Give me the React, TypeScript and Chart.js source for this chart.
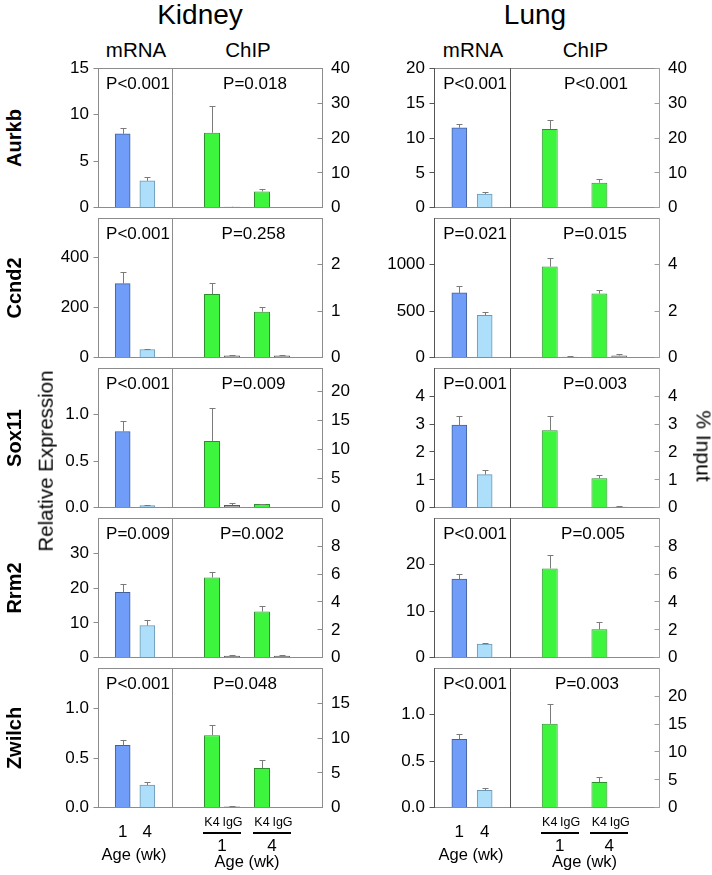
import React, { useEffect, useRef } from 'react';
import { Chart, registerables } from 'chart.js';

Chart.register(...registerables);

const FONT = '"Liberation Sans", Arial, sans-serif';

// ---------- labels ----------
const genes = ['Aurkb', 'Ccnd2', 'Sox11', 'Rrm2', 'Zwilch'];
const ageWeeks = ['1', '4'];
const chipGroups = ['K4', 'IgG'];

// ---------- Kidney ----------
const kidneyMrna1 = [7.95, 295, 0.82, 18.75, 0.63];
const kidneyMrna1Err = [0.65, 46, 0.11, 2.3, 0.05];
const kidneyMrna4 = [2.9, 33, 0.023, 9.25, 0.23];
const kidneyMrna4Err = [0.45, 3, 0.004, 1.7, 0.03];
const kidneyK4w1 = [21.5, 1.37, 11.5, 5.75, 10.4];
const kidneyK4w1Err = [7.7, 0.24, 5.6, 0.38, 1.4];
const kidneyIgGw1 = [0.3, 0.05, 0.48, 0.15, 0.17];
const kidneyIgGw1Err = [0.05, 0.01, 0.27, 0.02, 0.05];
const kidneyK4w4 = [4.7, 0.99, 0.64, 3.31, 5.7];
const kidneyK4w4Err = [0.8, 0.11, 0.08, 0.38, 1.2];
const kidneyIgGw4 = [0.1, 0.05, 0.05, 0.15, 0.05];
const kidneyIgGw4Err = [0.02, 0.01, 0.01, 0.02, 0.01];
const kidneyPmrna = ['P<0.001', 'P<0.001', 'P<0.001', 'P=0.009', 'P<0.001'];
const kidneyPchip = ['P=0.018', 'P=0.258', 'P=0.009', 'P=0.002', 'P=0.048'];
const kidneyMrnaMax = [15, 555, 1.5, 40, 1.41];
const kidneyMrnaTicks = [[0, 5, 10, 15], [0, 200, 400], [0, 0.5, 1.0], [0, 10, 20, 30], [0, 0.5, 1.0]];
const kidneyChipMax = [40, 3, 24, 10, 20];
const kidneyChipTicks = [[0, 10, 20, 30, 40], [0, 1, 2], [0, 5, 10, 15, 20], [0, 2, 4, 6, 8], [0, 5, 10, 15]];

// ---------- Lung ----------
const lungMrna1 = [11.47, 697, 2.96, 16.9, 0.737];
const lungMrna1Err = [0.6, 73, 0.34, 1.2, 0.057];
const lungMrna4 = [1.96, 457, 1.19, 2.93, 0.187];
const lungMrna4Err = [0.35, 40, 0.17, 0.2, 0.026];
const lungK4w1 = [22.6, 3.92, 2.78, 6.4, 15.05];
const lungK4w1Err = [2.5, 0.37, 0.51, 0.95, 3.6];
const lungIgGw1 = [0.1, 0.05, 0.02, 0.03, 0.05];
const lungIgGw1Err = [0.02, 0.01, 0.01, 0.01, 0.01];
const lungK4w4 = [7.2, 2.76, 1.06, 2.04, 4.6];
const lungK4w4Err = [1.0, 0.15, 0.13, 0.49, 0.83];
const lungIgGw4 = [0.15, 0.1, 0.04, 0.05, 0.1];
const lungIgGw4Err = [0.02, 0.06, 0.02, 0.01, 0.01];
const lungPmrna = ['P<0.001', 'P=0.021', 'P=0.001', 'P<0.001', 'P<0.001'];
const lungPchip = ['P<0.001', 'P=0.015', 'P=0.003', 'P=0.005', 'P=0.003'];
const lungMrnaMax = [20, 1500, 5, 30, 1.5];
const lungMrnaTicks = [[0, 5, 10, 15, 20], [0, 500, 1000], [0, 1, 2, 3, 4], [0, 10, 20], [0, 0.5, 1.0]];
const lungChipMax = [40, 6, 5, 10, 25];
const lungChipTicks = [[0, 10, 20, 30, 40], [0, 2, 4], [0, 1, 2, 3, 4], [0, 2, 4, 6, 8], [0, 5, 10, 15, 20]];

// ---------- styling ----------
const C_M1 = '#6F9DF7';
const C_M1B = '#44609a';
const C_M4 = '#ADDFFA';
const C_M4B = '#6c98b4';
const C_K4 = '#3DF53D';
const C_K4B = '#2f8f2f';
const C_IGG = '#A8A8A8';
const C_IGGB = '#5a5a5a';
const C_ERR = '#7a7a7a';
const TICK_FONT = 17;

const ROW_TOP0 = 63;
const ROW_H = 150;
const PAD = 14;

type Colors = { l: string; r: string; h: string };

type SubProps = {
  left: number;
  top: number;
  width: number;
  height: number;
  side: 'left' | 'right';
  axisW: number;
  datasets: any[];
  yMax: number;
  yTicks: number[];
  colors: Colors;
};

function SubChart(p: SubProps) {
  const ref = useRef<HTMLCanvasElement>(null);
  useEffect(() => {
    if (!ref.current) return;
    const decimals = p.yTicks.some((v) => !Number.isInteger(v)) ? 1 : 0;
    const cr = (v: number) => Math.floor(v) + 0.5;
    const frame = {
      id: 'frame',
      afterDraw(chart: any) {
        const { ctx, chartArea: a } = chart;
        const ys = chart.scales.y;
        ctx.save();
        ctx.lineWidth = 1;
        const line = (x1: number, y1: number, x2: number, y2: number, col: string) => {
          ctx.strokeStyle = col;
          ctx.beginPath();
          ctx.moveTo(x1, y1);
          ctx.lineTo(x2, y2);
          ctx.stroke();
        };
        const L = cr(a.left), R = cr(a.right), T = cr(a.top), B = cr(a.bottom);
        line(L, T, R, T, p.colors.h);
        line(L, B, R, B, p.colors.h);
        line(L, T - 0.5, L, B + 0.5, p.colors.l);
        line(R, T - 0.5, R, B + 0.5, p.colors.r);
        p.yTicks.forEach((v) => {
          const y = cr(ys.getPixelForValue(v));
          if (p.side === 'left') line(L - 5, y, L, y, p.colors.l);
          else line(R - 5, y, R, y, p.colors.r);
        });
        ctx.restore();
      },
    };
    const errs = {
      id: 'errs',
      afterDatasetsDraw(chart: any) {
        const ctx = chart.ctx;
        const ys = chart.scales.y;
        ctx.save();
        ctx.strokeStyle = C_ERR;
        ctx.lineWidth = 1;
        chart.data.datasets.forEach((ds: any, i: number) => {
          const meta = chart.getDatasetMeta(i);
          meta.data.forEach((el: any, j: number) => {
            const v = ds.data[j];
            const e = ds.errors ? ds.errors[j] : null;
            if (v == null || !e) return;
            const x = Math.round(el.x) + 0.5;
            const y0 = el.y;
            const y1 = Math.round(ys.getPixelForValue(v + e)) + 0.5;
            ctx.beginPath();
            ctx.moveTo(x, y0);
            ctx.lineTo(x, y1);
            ctx.moveTo(x - 3, y1);
            ctx.lineTo(x + 3, y1);
            ctx.stroke();
          });
        });
        ctx.restore();
      },
    };
    const chart = new Chart(ref.current, {
      type: 'bar',
      data: { labels: ['', ...ageWeeks, ''], datasets: p.datasets },
      options: {
        responsive: false,
        animation: false,
        events: [],
        layout: {
          padding: {
            top: PAD,
            bottom: PAD,
            left: 0,
            right: 0,
          },
        },
        datasets: { bar: { categoryPercentage: 0.8, barPercentage: 0.8 } },
        plugins: { legend: { display: false }, tooltip: { enabled: false } },
        scales: {
          x: { type: 'category', offset: false, display: false },
          y: {
            position: p.side,
            min: 0,
            max: p.yMax,
            afterFit: (s: any) => {
              s.width = p.axisW;
            },
            afterBuildTicks: (s: any) => {
              s.ticks = p.yTicks.map((v) => ({ value: v }));
            },
            ticks: {
              padding: 9,
              color: '#000',
              font: { family: FONT, size: TICK_FONT },
              callback: (v: any) => Number(v).toFixed(decimals),
            },
            grid: { display: false, drawTicks: false },
            border: { display: false },
          },
        },
      } as any,
      plugins: [frame, errs],
    });
    return () => chart.destroy();
  }, []);
  return (
    <canvas
      ref={ref}
      width={p.width}
      height={p.height}
      style={{ position: 'absolute', left: p.left, top: p.top }}
    />
  );
}

function Txt(props: { x: number; y: number; size: number; bold?: boolean; children: any }) {
  const { x, y, size, bold, children } = props;
  return (
    <div
      style={{
        position: 'absolute',
        left: x,
        top: y - 0.8465 * size,
        fontSize: size,
        lineHeight: `${size}px`,
        fontWeight: bold ? 'bold' : 'normal',
        transform: 'translateX(-50%)',
        whiteSpace: 'nowrap',
        color: '#000',
      }}
    >
      {children}
    </div>
  );
}

function RotTxt(props: { cx: number; cy: number; size: number; angle: number; bold?: boolean; children: any }) {
  const { cx, cy, size, angle, bold, children } = props;
  return (
    <div
      style={{
        position: 'absolute',
        left: cx,
        top: cy,
        fontSize: size,
        lineHeight: `${size}px`,
        fontWeight: bold ? 'bold' : 'normal',
        transform: `translate(-50%, -50%) rotate(${angle}deg)`,
        whiteSpace: 'nowrap',
        color: '#000',
      }}
    >
      {children}
    </div>
  );
}

type Tissue = {
  name: string;
  titleX: number;
  mL: number;
  div: number;
  R: number;
  colMrna: Colors;
  colChip: Colors;
  m1: number[]; m1e: number[]; m4: number[]; m4e: number[];
  k1: number[]; k1e: number[]; i1: number[]; i1e: number[];
  k4: number[]; k4e: number[]; i4: number[]; i4e: number[];
  pm: string[]; pc: string[];
  mMax: number[]; mTicks: number[][]; cMax: number[]; cTicks: number[][];
  pcOff: number[];
};

const kidney: Tissue = {
  name: 'Kidney', titleX: 200, mL: 98, div: 172, R: 322,
  colMrna: { l: '#8c8c8c', r: '#8c8c8c', h: '#8c8c8c' },
  colChip: { l: '#8c8c8c', r: '#8c8c8c', h: '#8c8c8c' },
  m1: kidneyMrna1, m1e: kidneyMrna1Err, m4: kidneyMrna4, m4e: kidneyMrna4Err,
  k1: kidneyK4w1, k1e: kidneyK4w1Err, i1: kidneyIgGw1, i1e: kidneyIgGw1Err,
  k4: kidneyK4w4, k4e: kidneyK4w4Err, i4: kidneyIgGw4, i4e: kidneyIgGw4Err,
  pm: kidneyPmrna, pc: kidneyPchip,
  mMax: kidneyMrnaMax, mTicks: kidneyMrnaTicks, cMax: kidneyChipMax, cTicks: kidneyChipTicks,
  pcOff: [83, 81.5, 81.5, 80, 73],
};

const lung: Tissue = {
  name: 'Lung', titleX: 535, mL: 434, div: 510, R: 659,
  colMrna: { l: '#555555', r: '#555555', h: '#8c8c8c' },
  colChip: { l: '#555555', r: '#a0a0a0', h: '#8c8c8c' },
  m1: lungMrna1, m1e: lungMrna1Err, m4: lungMrna4, m4e: lungMrna4Err,
  k1: lungK4w1, k1e: lungK4w1Err, i1: lungIgGw1, i1e: lungIgGw1Err,
  k4: lungK4w4, k4e: lungK4w4Err, i4: lungIgGw4, i4e: lungIgGw4Err,
  pm: lungPmrna, pc: lungPchip,
  mMax: lungMrnaMax, mTicks: lungMrnaTicks, cMax: lungChipMax, cTicks: lungChipTicks,
  pcOff: [86, 85, 85, 83, 77],
};

function TissueBlock({ t }: { t: Tissue }) {
  const mW = t.div - t.mL;
  const cW = t.R - t.div;
  const LEFT_AX = 60;
  const RIGHT_AX = 50;
  const bottom = ROW_TOP0 + ROW_H * genes.length;
  const mrnaCenters = [t.mL + mW / 3, t.mL + (2 * mW) / 3];
  const groupCenters = [t.div + cW / 3, t.div + (2 * cW) / 3];
  const barOff = (10 * cW) / 150;
  const out: any[] = [];
  out.push(<Txt key="title" x={t.titleX} y={25} size={28}>{t.name}</Txt>);
  out.push(<Txt key="mrnaT" x={t.mL + mW / 2 + 1} y={57} size={20.5}>mRNA</Txt>);
  out.push(<Txt key="chipT" x={t.div + cW / 2 + 1} y={57} size={20.5}>ChIP</Txt>);
  genes.forEach((g, r) => {
    const rowTop = ROW_TOP0 + r * ROW_H;
    out.push(
      <SubChart
        key={`m${r}`}
        left={t.mL - LEFT_AX}
        top={rowTop - PAD}
        width={LEFT_AX + mW}
        height={ROW_H + 2 * PAD}
        side="left"
        axisW={LEFT_AX}
        yMax={t.mMax[r]}
        yTicks={t.mTicks[r]}
        colors={t.colMrna}
        datasets={[
          {
            label: 'mRNA',
            data: [null, t.m1[r], t.m4[r], null],
            errors: [null, t.m1e[r], t.m4e[r], null],
            backgroundColor: ['rgba(0,0,0,0)', C_M1, C_M4, 'rgba(0,0,0,0)'],
            borderColor: ['rgba(0,0,0,0)', C_M1B, C_M4B, 'rgba(0,0,0,0)'],
            borderWidth: 1,
            barThickness: 15,
          },
        ]}
      />
    );
    out.push(
      <SubChart
        key={`c${r}`}
        left={t.div}
        top={rowTop - PAD}
        width={cW + RIGHT_AX}
        height={ROW_H + 2 * PAD}
        side="right"
        axisW={RIGHT_AX}
        yMax={t.cMax[r]}
        yTicks={t.cTicks[r]}
        colors={t.colChip}
        datasets={[
          {
            label: chipGroups[0],
            data: [null, t.k1[r], t.k4[r], null],
            errors: [null, t.k1e[r], t.k4e[r], null],
            backgroundColor: C_K4,
            borderColor: C_K4B,
            borderWidth: 1,
          },
          {
            label: chipGroups[1],
            data: [null, t.i1[r], t.i4[r], null],
            errors: [null, t.i1e[r], t.i4e[r], null],
            backgroundColor: C_IGG,
            borderColor: C_IGGB,
            borderWidth: 1,
          },
        ]}
      />
    );
    out.push(
      <Txt key={`pm${r}`} x={t.mL + 0.54 * mW} y={rowTop + 26} size={17}>{t.pm[r]}</Txt>
    );
    out.push(
      <Txt key={`pc${r}`} x={t.div + t.pcOff[r]} y={rowTop + 26} size={17}>{t.pc[r]}</Txt>
    );
  });
  // x-axis labels under the last row
  ageWeeks.forEach((w, i) => {
    out.push(<Txt key={`ma${i}`} x={mrnaCenters[i]} y={bottom + 24} size={17}>{w}</Txt>);
    out.push(<Txt key={`k4${i}`} x={groupCenters[i] - barOff} y={bottom + 14} size={12.5}>{chipGroups[0]}</Txt>);
    out.push(<Txt key={`ig${i}`} x={groupCenters[i] + barOff + 0.5} y={bottom + 14} size={12.5}>{chipGroups[1]}</Txt>);
    out.push(
      <div
        key={`ul${i}`}
        style={{
          position: 'absolute',
          left: groupCenters[i] - 19,
          top: bottom + 19,
          width: 38,
          height: 2,
          background: '#000',
        }}
      />
    );
    out.push(<Txt key={`ga${i}`} x={groupCenters[i]} y={bottom + 38} size={17}>{w}</Txt>);
  });
  out.push(<Txt key="ageM" x={t.mL + mW / 2 - 1} y={bottom + 47} size={16.5}>Age (wk)</Txt>);
  out.push(<Txt key="ageC" x={t.div + cW / 2} y={bottom + 54} size={16.5}>Age (wk)</Txt>);
  return <>{out}</>;
}

export default function App() {
  return (
    <div
      style={{
        position: 'absolute',
        left: 0,
        top: 0,
        width: 712,
        height: 875,
        background: '#fff',
        fontFamily: FONT,
        overflow: 'hidden',
      }}
    >
      <TissueBlock t={kidney} />
      <TissueBlock t={lung} />
      {genes.map((g, r) => (
        <RotTxt key={g} cx={14} cy={ROW_TOP0 + r * ROW_H + ROW_H / 2} size={20} angle={-90} bold>
          {g}
        </RotTxt>
      ))}
      <RotTxt cx={46} cy={461} size={20.5} angle={-90}>Relative Expression</RotTxt>
      <RotTxt cx={704} cy={446} size={21} angle={90}>% Input</RotTxt>
    </div>
  );
}
